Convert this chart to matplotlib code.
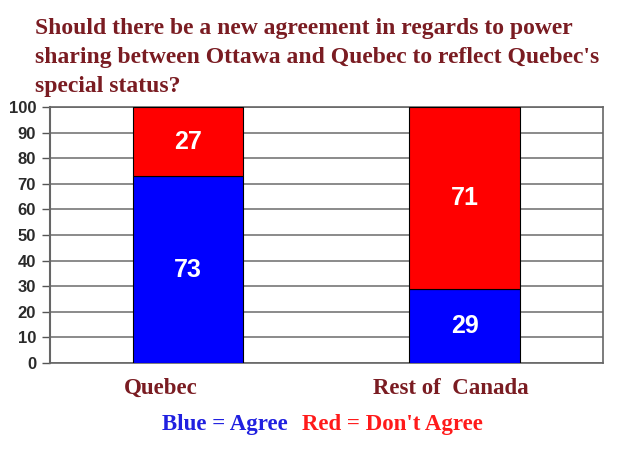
import matplotlib.pyplot as plt
import numpy as np

categories = ['Quebec', 'Rest of  Canada']
agree = [73, 29]
dont_agree = [27, 71]
yticks = list(range(0, 101, 10))
title = ("Should there be a new agreement in regards to power\n"
         "sharing between Ottawa and Quebec to reflect Quebec's\n"
         "special status?")

dark_red = '#7a1c22'
serif = ['Liberation Serif', 'DejaVu Serif']
sans = ['Liberation Sans', 'DejaVu Sans']

fig = plt.figure(figsize=(6.4, 4.59), dpi=100)
ax = fig.add_axes([0.078, 0.209, 0.864, 0.558])

x = np.arange(len(categories))
w = 0.4
ax.bar(x, agree, width=w, color='#0000ff', edgecolor='black', linewidth=0.8, zorder=3)
ax.bar(x, dont_agree, width=w, bottom=agree, color='#ff0000', edgecolor='black', linewidth=0.8, zorder=3)

for i in range(len(categories)):
    ax.text(x[i], agree[i] / 2, str(agree[i]), ha='center', va='center', color='white',
            fontsize=18, fontweight='bold', family=sans, zorder=4)
    ax.text(x[i], agree[i] + dont_agree[i] / 2, str(dont_agree[i]), ha='center', va='center',
            color='white', fontsize=18, fontweight='bold', family=sans, zorder=4)

ax.set_xlim(-0.5, 1.5)
ax.set_ylim(0, 100)
ax.set_yticks(yticks)
ax.set_yticklabels([str(t) for t in yticks], family=sans, fontsize=12, fontweight='bold', color='#2a2a2a')
ax.tick_params(axis='y', length=6, width=1, color='#555555', pad=4)
ax.set_xticks([])
ax.yaxis.grid(True, color='#777777', linewidth=1.2, zorder=1)
for s in ax.spines.values():
    s.set_color('#666666')
    s.set_linewidth(1.2)
ax.spines['left'].set_linewidth(1.5)

# category labels, slightly left of bar centers as in the original
offsets = [-0.10, -0.05]
for i, c in enumerate(categories):
    ax.text(x[i] + offsets[i], -10, c, ha='center', va='center', color=dark_red,
            fontsize=16.5, fontweight='bold', family=serif)

fig.text(0.055, 0.96, title, ha='left', va='top', color=dark_red, fontsize=17,
         fontweight='bold', family=serif, linespacing=1.5)

fig.text(0.253, 0.076, 'Blue = Agree', ha='left', va='center', color='#2020e0',
         fontsize=16.5, fontweight='bold', family=serif)
fig.text(0.472, 0.076, "Red = Don't Agree", ha='left', va='center', color='#ff1a1a',
         fontsize=16.5, fontweight='bold', family=serif)

fig.savefig('out.png', dpi=100)
